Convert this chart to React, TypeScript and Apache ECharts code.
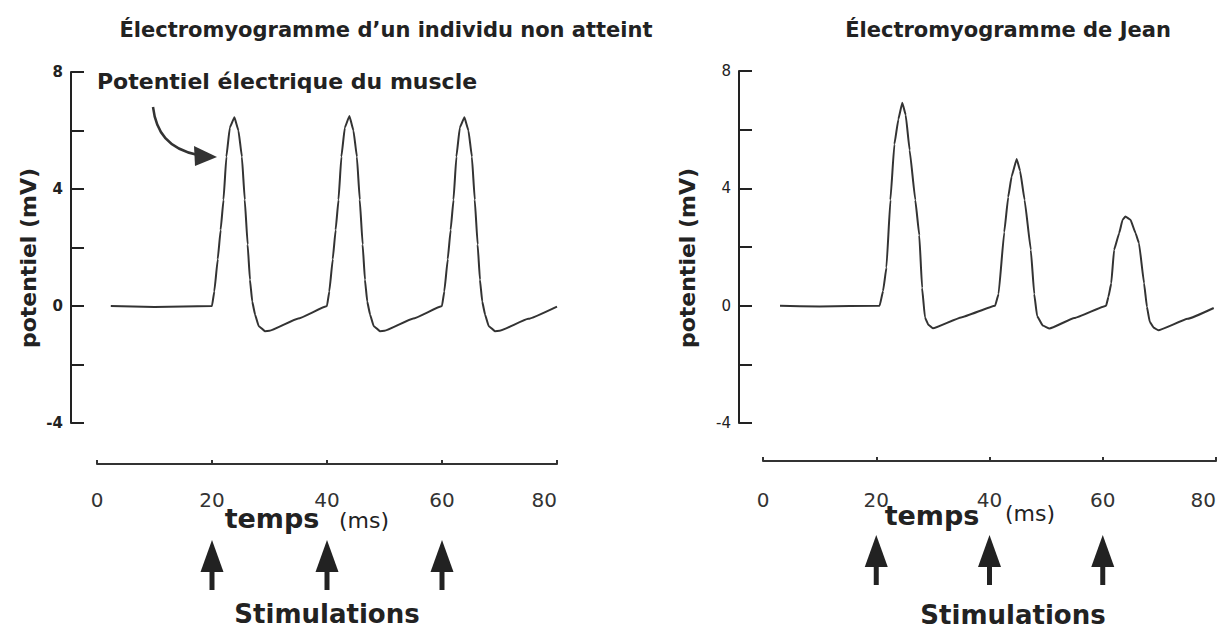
import React, { useEffect, useRef } from "react";
import * as echarts from "echarts";

// ---- data ----
const xTickValues = [0, 20, 40, 60, 80];
const yTickLabels = [-4, 0, 4, 8];
const stimulations = [20, 40, 60];

const titles = ["Électromyogramme d’un individu non atteint", "Électromyogramme de Jean"];
const yAxisName = "potentiel (mV)";
const xAxisName = "temps";
const xAxisUnit = "(ms)";
const stimLabel = "Stimulations";
const annotation = "Potentiel électrique du muscle";

const normalTimes = [
  2.4, 10, 20,
  20.4, 21.0, 21.5, 22.0, 22.5, 23.1, 23.9, 24.6, 25.2, 25.7, 26.2, 26.6, 27.0, 27.5, 28.1, 29.2, 30.0,
  35.0, 40.0,
  40.4, 41.0, 41.5, 42.0, 42.5, 43.1, 43.9, 44.6, 45.2, 45.7, 46.2, 46.6, 47.0, 47.5, 48.1, 49.2, 50.0,
  55.0, 60.0,
  60.4, 61.0, 61.5, 62.0, 62.5, 63.1, 63.9, 64.6, 65.2, 65.7, 66.2, 66.6, 67.0, 67.5, 68.1, 69.2, 70.0,
  75.0, 80.0,
];
const normalValues = [
  0, -0.03, 0,
  0.5, 1.6, 2.6, 3.63, 5.1, 6.1, 6.45, 6.0, 5.1, 3.63, 2.1, 0.9, 0.15, -0.3, -0.68, -0.86, -0.85,
  -0.43, 0,
  0.5, 1.6, 2.6, 3.63, 5.1, 6.1, 6.5, 6.0, 5.1, 3.63, 2.1, 0.9, 0.15, -0.3, -0.68, -0.86, -0.85,
  -0.43, 0,
  0.5, 1.6, 2.6, 3.63, 5.1, 6.1, 6.45, 6.0, 5.1, 3.63, 2.1, 0.9, 0.15, -0.3, -0.68, -0.86, -0.85,
  -0.44, -0.02,
];

const jeanTimes = [
  3.0, 10, 20.6,
  21.2, 21.8, 22.5, 23.2, 23.9, 24.6, 25.2, 25.9, 26.9, 27.6, 28.1, 28.6, 29.2, 30.0,
  35.0, 41.0,
  41.6, 42.6, 43.3, 43.9, 44.8, 45.4, 46.2, 47.3, 47.9, 48.4, 49.4, 50.6,
  55.0, 60.6,
  61.0, 61.5, 62.0, 62.9, 63.5, 64.0, 64.9, 65.8, 66.4, 67.3, 67.8, 68.3, 69.0, 69.8,
  75.0, 79.6,
];
const jeanValues = [
  0, -0.03, 0,
  0.5, 1.3, 3.6, 5.5, 6.35, 6.92, 6.5, 5.3, 3.6, 2.4, 0.6, -0.4, -0.65, -0.77,
  -0.4, 0,
  0.4, 2.5, 3.7, 4.4, 5.0, 4.6, 3.6, 1.9, 0.4, -0.35, -0.68, -0.78,
  -0.42, 0,
  0.3, 0.76, 1.9, 2.47, 2.93, 3.04, 2.93, 2.47, 2.13, 0.76, -0.04, -0.55, -0.75, -0.84,
  -0.45, -0.08,
];

const FONT = '"DejaVu Sans", Verdana, sans-serif';
const INK = "#222";

function text(x: number, y: number, t: string, font: string, align = "center", rotation = 0) {
  return {
    type: "text",
    x,
    y,
    rotation,
    silent: true,
    style: {
      text: t,
      font,
      fill: INK,
      align,
      verticalAlign: "middle",
      textAlign: align,
      textVerticalAlign: "middle",
    },
  };
}

function makeXAxis(gridIndex: number, offset: number, margin: number) {
  return {
    type: "value",
    gridIndex,
    min: 0,
    max: 80,
    interval: 20,
    position: "bottom",
    offset,
    axisLine: { show: true, onZero: false, lineStyle: { color: "#333", width: 2 } },
    axisTick: { show: true, inside: true, length: 4, lineStyle: { color: "#333", width: 2 } },
    axisLabel: {
      margin,
      fontFamily: FONT,
      fontSize: 20,
      color: "#333",
      alignMaxLabel: "right",
      formatter: (v: number) => (xTickValues.includes(v) ? String(v) : ""),
    },
    splitLine: { show: false },
  };
}

function makeYAxis(gridIndex: number, offset: number, bold: boolean) {
  return {
    type: "value",
    gridIndex,
    min: -4,
    max: 8,
    interval: 2,
    offset,
    axisLine: { show: true, onZero: false, lineStyle: { color: INK, width: 2 } },
    axisTick: { show: true, inside: true, length: 13, lineStyle: { color: INK, width: 2 } },
    axisLabel: {
      margin: 8,
      fontFamily: FONT,
      fontSize: 15,
      fontWeight: bold ? "bold" : "normal",
      color: INK,
      formatter: (v: number) => (yTickLabels.includes(v) ? String(v) : ""),
    },
    splitLine: { show: false },
  };
}

function arrowSeries(index: number, tipY: number) {
  return {
    type: "custom",
    xAxisIndex: index,
    yAxisIndex: index,
    clip: false,
    silent: true,
    data: stimulations.map((t) => [t, 0]),
    encode: { x: 0, y: 1 },
    renderItem: (_params: any, api: any) => {
      const x = api.coord([api.value(0), 0])[0];
      const baseY = tipY + 32;
      const endY = tipY + 50;
      return {
        type: "group",
        children: [
          {
            type: "polygon",
            shape: { points: [[x, tipY], [x - 11.5, baseY], [x + 11.5, baseY]] },
            style: { fill: INK },
          },
          {
            type: "rect",
            shape: { x: x - 2.5, y: baseY - 1, width: 5, height: endY - baseY + 1 },
            style: { fill: INK },
          },
        ],
      };
    },
  };
}

export default function App() {
  const ref = useRef<HTMLDivElement>(null);

  useEffect(() => {
    const chart = echarts.init(ref.current!, null, { renderer: "svg" });
    const option: any = {
      animation: false,
      backgroundColor: "#fff",
      grid: [
        { left: 97, top: 72, width: 460, height: 351 },
        { left: 763, top: 71, width: 456, height: 352 },
      ],
      xAxis: [makeXAxis(0, 41, 26), makeXAxis(1, 38, 29)],
      yAxis: [makeYAxis(0, 26, true), makeYAxis(1, 24, false)],
      series: [
        {
          type: "line",
          xAxisIndex: 0,
          yAxisIndex: 0,
          data: normalTimes.map((t, i) => [t, normalValues[i]]),
          showSymbol: false,
          smooth: 0.1,
          smoothMonotone: "x",
          lineStyle: { color: "#333", width: 2 },
          silent: true,
        },
        {
          type: "line",
          xAxisIndex: 1,
          yAxisIndex: 1,
          data: jeanTimes.map((t, i) => [t, jeanValues[i]]),
          showSymbol: false,
          smooth: 0.1,
          smoothMonotone: "x",
          lineStyle: { color: "#333", width: 2 },
          silent: true,
        },
        arrowSeries(0, 540),
        arrowSeries(1, 535),
      ],
      graphic: [
        text(386, 30, titles[0], `bold 21px ${FONT}`),
        text(1008, 30, titles[1], `bold 21px ${FONT}`),
        text(97, 81, annotation, `bold 22px ${FONT}`, "left"),
        {
          type: "bezierCurve",
          silent: true,
          shape: { x1: 153, y1: 107, cpx1: 156, cpy1: 132, cpx2: 168, cpy2: 149, x2: 198, y2: 155 },
          style: { stroke: "#333", lineWidth: 2.5, fill: null },
        },
        {
          type: "polygon",
          silent: true,
          shape: { points: [[217, 157], [194, 146], [195, 166]] },
          style: { fill: "#333" },
        },
        text(28, 258, yAxisName, `bold 22px ${FONT}`, "center", Math.PI / 2),
        text(687, 258, yAxisName, `bold 22px ${FONT}`, "center", Math.PI / 2),
        text(272, 518, xAxisName, `bold 27px ${FONT}`),
        text(364, 520, xAxisUnit, `22px ${FONT}`),
        text(932, 515, xAxisName, `bold 27px ${FONT}`),
        text(1030, 513, xAxisUnit, `22px ${FONT}`),
        text(327, 614, stimLabel, `bold 26px ${FONT}`),
        text(1013, 615, stimLabel, `bold 26px ${FONT}`),
      ],
    };
    chart.setOption(option);
    return () => chart.dispose();
  }, []);

  return (
    <div
      ref={ref}
      style={{ position: "absolute", left: 0, top: 0, width: 1219, height: 632, background: "#fff" }}
    />
  );
}
